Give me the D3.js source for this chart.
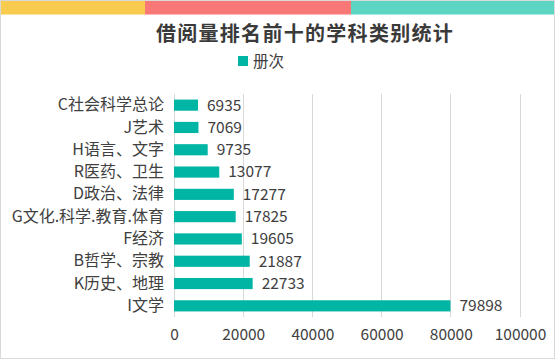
<!DOCTYPE html>
<html><head><meta charset="utf-8">
<script src="https://cdn.jsdelivr.net/npm/d3@7"></script>
<style>
html,body{margin:0;padding:0;background:#fff;}
svg{display:block;font-family:"Noto Sans CJK SC","Noto Sans",sans-serif;}
</style></head>
<body><svg id="c" width="556" height="360"></svg>
<script>
const categories = ["C社会科学总论","J艺术","H语言、文字","R医药、卫生","D政治、法律","G文化.科学.教育.体育","F经济","B哲学、宗教","K历史、地理","I文学"];
const values = [6935,7069,9735,13077,17277,17825,19605,21887,22733,79898];
const xTicks = [0,20000,40000,60000,80000,100000];
const seriesName = "册次";
const title = "借阅量排名前十的学科类别统计";

const svg = d3.select("#c");
const W = 556, H = 360;
// border
svg.append("rect").attr("x",0.5).attr("y",0.5).attr("width",W-2).attr("height",H-2)
  .attr("fill","#fff").attr("stroke","#d9d9d9");
// top strip
const strips = [{x0:1,x1:145,c:"#F8CB4E"},{x0:145,x1:351,c:"#F87878"},{x0:351,x1:554,c:"#5DD5C3"}];
svg.selectAll("rect.strip").data(strips).enter().append("rect").attr("class","strip")
  .attr("x",d=>d.x0).attr("y",1).attr("width",d=>d.x1-d.x0).attr("height",13.5).attr("fill",d=>d.c);

// title
svg.append("text").attr("x",305).attr("y",41).attr("text-anchor","middle")
  .attr("font-size",20).attr("font-weight","bold").attr("fill","#3a3a3a")
  .attr("letter-spacing","1.3px").text(title);

// legend
svg.append("rect").attr("x",238).attr("y",56).attr("width",10).attr("height",10).attr("fill","#00B5A4");
svg.append("text").attr("x",253).attr("y",66.5).attr("font-size",15.5).attr("fill","#404040").text(seriesName);

const x = d3.scaleLinear().domain([0,100000]).range([174,520]);
const y = d3.scaleBand().domain(categories).range([94,317]).paddingInner(0.5).paddingOuter(0.25);

// grid
svg.append("g").selectAll("line").data(xTicks).enter().append("line")
  .attr("x1",d=>x(d)).attr("x2",d=>x(d)).attr("y1",94).attr("y2",317)
  .attr("stroke","#d9d9d9").attr("stroke-width",1).attr("shape-rendering","crispEdges");

// x axis labels
const xAxis = d3.axisBottom(x).tickValues(xTicks).tickSize(0).tickFormat(d3.format("d"));
const gx = svg.append("g").attr("transform","translate(0,326)").call(xAxis);
gx.select(".domain").remove();
gx.selectAll("text").attr("font-size",15.5).attr("fill","#404040").attr("font-family","'Noto Sans CJK SC','Noto Sans',sans-serif");

// y axis labels
const yAxis = d3.axisLeft(y).tickSize(0).tickPadding(0);
const gy = svg.append("g").attr("transform","translate(164,0)").call(yAxis);
gy.select(".domain").remove();
gy.selectAll("text").attr("font-size",16).attr("fill","#404040").attr("font-family","'Noto Sans CJK SC','Noto Sans',sans-serif");

// bars
const data = categories.map((c,i)=>({c,v:values[i]}));
svg.append("g").selectAll("rect").data(data).enter().append("rect")
  .attr("x",x(0)).attr("y",d=>y(d.c)).attr("width",d=>x(d.v)-x(0)).attr("height",y.bandwidth())
  .attr("fill","#00B5A4");

// value labels
svg.append("g").selectAll("text").data(data).enter().append("text")
  .attr("x",d=>x(d.v)+9).attr("y",d=>y(d.c)+y.bandwidth()/2).attr("dy","0.35em")
  .attr("font-size",15.5).attr("fill","#404040").text(d=>d.v);
</script></body></html>
